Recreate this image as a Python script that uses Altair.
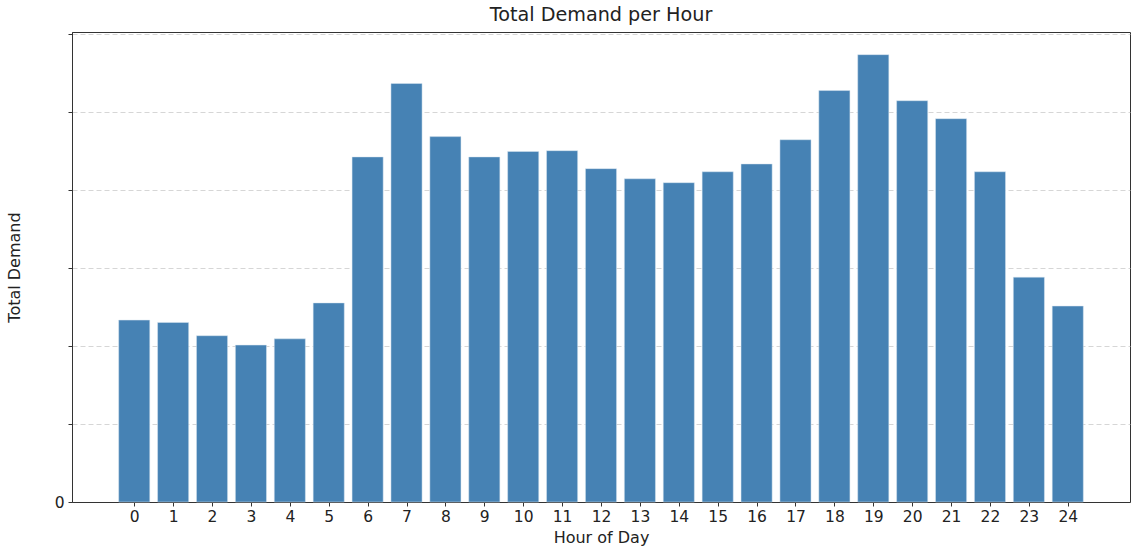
import altair as alt
import pandas as pd

hours = list(range(25))
demand = [233, 230, 213, 201, 209, 255, 442, 536, 468, 442, 449, 450, 427, 414, 409,
          423, 433, 464, 527, 573, 514, 491, 423, 288, 251]
y_ticks = [0, 100, 200, 300, 400, 500, 600]

df = pd.DataFrame({"hour": hours, "demand": demand})
df["x0"] = df["hour"] - 0.4
df["x1"] = df["hour"] + 0.4

font = "DejaVu Sans"

bars = alt.Chart(df).mark_bar(color="#4682b4", stroke="#dbe6f0", strokeWidth=0.5).encode(
    x=alt.X("x0:Q",
            scale=alt.Scale(domain=[-1.6, 25.6], nice=False, zero=False),
            axis=alt.Axis(values=hours, title="Hour of Day", grid=False, format="d",
                          labelFontSize=15.5, titleFontSize=16, tickSize=4,
                          labelPadding=3, titlePadding=5, labelColor="#222",
                          titleColor="#222", titleFontWeight="normal",
                          domainColor="#333", tickColor="#333")),
    x2="x1:Q",
    y=alt.Y("demand:Q",
            scale=alt.Scale(domain=[0, 602], nice=False),
            axis=alt.Axis(values=y_ticks, title="Total Demand",
                          labelExpr="datum.value == 0 ? '0' : ''",
                          grid=True, gridDash=[5, 3], gridColor="#cccccc", gridWidth=0.8,
                          labelFontSize=15.5, titleFontSize=16, tickSize=4,
                          labelPadding=4, titlePadding=32, labelColor="#222",
                          titleColor="#222", titleFontWeight="normal",
                          domainColor="#333", tickColor="#333")),
    y2=alt.datum(0),
)

chart = bars.properties(
    width=1058,
    height=470,
    title=alt.TitleParams("Total Demand per Hour", fontSize=19.2, font=font,
                          fontWeight="normal", color="#222", offset=7),
    autosize=alt.AutoSizeParams(type="none"),
    padding={"left": 72, "top": 32, "right": 4, "bottom": 52},
).configure(font=font).configure_view(stroke="#333", strokeWidth=1).configure_axis(
    labelFont=font, titleFont=font)

chart.save("out.html", embed_options={"renderer": "svg", "actions": False})
